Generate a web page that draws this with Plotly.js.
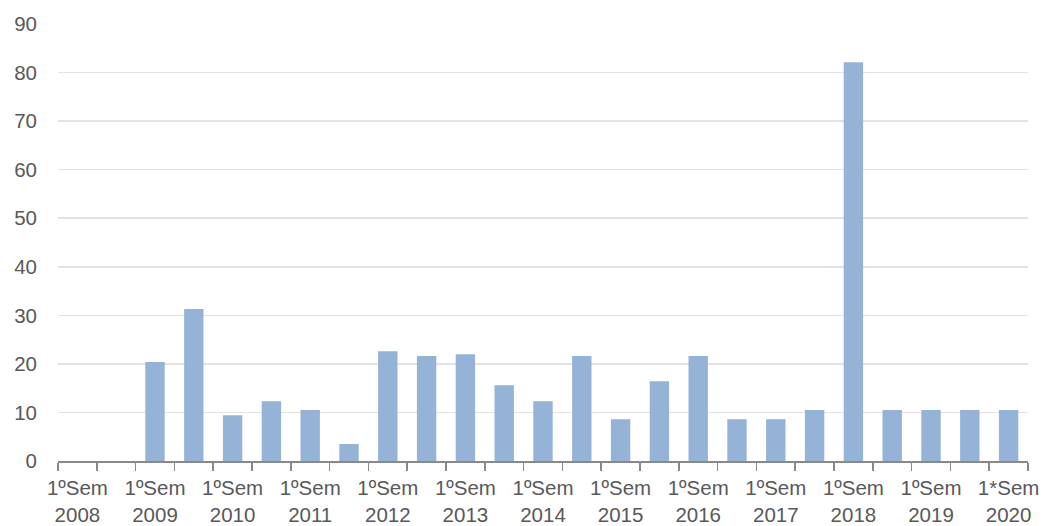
<!DOCTYPE html>
<html>
<head>
<meta charset="utf-8">
<script src="https://cdn.plot.ly/plotly-3.0.1.min.js"></script>
<style>html,body{margin:0;padding:0;background:#fff;}#chart{width:1048px;height:526px;}</style>
</head>
<body>
<div id="chart"></div>
<script>
var categories = [
  "1ºSem 2008","2ºSem 2008","1ºSem 2009","2ºSem 2009","1ºSem 2010","2ºSem 2010",
  "1ºSem 2011","2ºSem 2011","1ºSem 2012","2ºSem 2012","1ºSem 2013","2ºSem 2013",
  "1ºSem 2014","2ºSem 2014","1ºSem 2015","2ºSem 2015","1ºSem 2016","2ºSem 2016",
  "1ºSem 2017","2ºSem 2017","1ºSem 2018","2ºSem 2018","1ºSem 2019","2ºSem 2019",
  "1*Sem 2020"
];
var values = [
  0, 0, 20.4, 31.3, 9.4, 12.3,
  10.5, 3.5, 22.6, 21.6, 22.0, 15.6,
  12.3, 21.6, 8.6, 16.4, 21.6, 8.6,
  8.6, 10.5, 82.1, 10.5, 10.5, 10.5,
  10.5
];
var tickLabels = [
  "1ºSem<br>2008","","1ºSem<br>2009","","1ºSem<br>2010","",
  "1ºSem<br>2011","","1ºSem<br>2012","","1ºSem<br>2013","",
  "1ºSem<br>2014","","1ºSem<br>2015","","1ºSem<br>2016","",
  "1ºSem<br>2017","","1ºSem<br>2018","","1ºSem<br>2019","",
  "1*Sem<br>2020"
];
var yTicks = [0,10,20,30,40,50,60,70,80,90];

var font = {family: "Liberation Sans, Arial, sans-serif", size: 20.5, color: "#595959"};

Plotly.newPlot("chart", [{
  type: "bar",
  x: categories,
  y: values,
  marker: {color: "#95b3d7"},
  hoverinfo: "x+y"
}], {
  width: 1048, height: 526,
  margin: {l: 58, r: 20, t: 24, b: 65},
  paper_bgcolor: "#fff", plot_bgcolor: "#fff",
  bargap: 0.5,
  showlegend: false,
  font: font,
  xaxis: {
    type: "category",
    tickmode: "array",
    tickvals: categories,
    ticktext: tickLabels,
    tickson: "boundaries",
    ticks: "outside",
    ticklen: 8,
    tickwidth: 1.5,
    tickcolor: "#898989",
    showline: true,
    linecolor: "#898989",
    linewidth: 1.5,
    showgrid: false,
    tickangle: 0,
    ticklabelstandoff: 8,
    tickfont: font,
    fixedrange: true
  },
  yaxis: {
    range: [0, 90],
    tickmode: "array",
    tickvals: yTicks,
    ticktext: yTicks.map(String),
    showgrid: true,
    gridcolor: "#e3e3e3",
    gridwidth: 1.5,
    zeroline: false,
    showline: false,
    ticks: "",
    ticklabelstandoff: 20,
    tickfont: font,
    fixedrange: true
  }
}, {displayModeBar: false, staticPlot: true});
</script>
</body>
</html>
